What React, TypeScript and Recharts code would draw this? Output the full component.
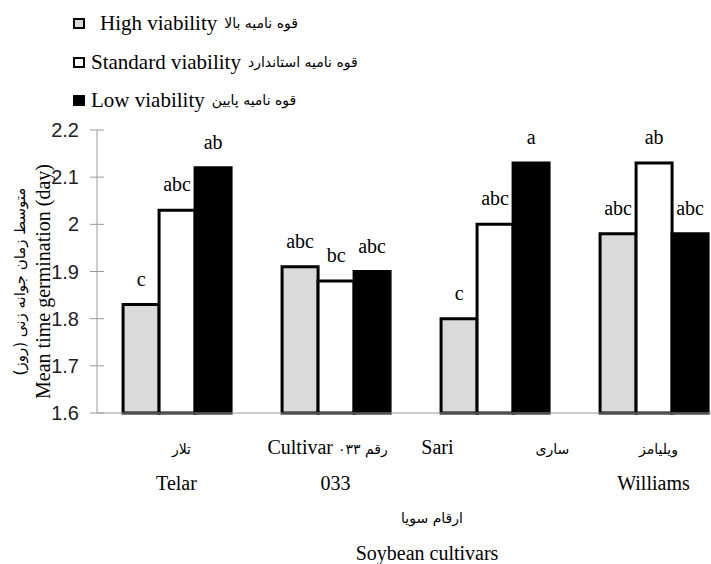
import React from 'react';
import { BarChart, Bar, XAxis, YAxis, Legend, LabelList, Label } from 'recharts';

const categories = ['Telar', 'Cultivar 033', 'Sari', 'Williams'];
const highViability = [1.83, 1.91, 1.8, 1.98];
const standardViability = [2.03, 1.88, 2.0, 2.13];
const lowViability = [2.12, 1.9, 2.13, 1.98];
const highLetters = ['c', 'abc', 'c', 'abc'];
const standardLetters = ['abc', 'bc', 'abc', 'ab'];
const lowLetters = ['ab', 'abc', 'a', 'abc'];

const yTicks = [1.6, 1.7, 1.8, 1.9, 2, 2.1, 2.2];
const yTickLabels = ['1.6', '1.7', '1.8', '1.9', '2', '2.1', '2.2'];
const edgeTicks = [0, 1, 2, 3, 4];

const seriesEn = ['High viability', 'Standard viability', 'Low viability'];
const seriesFa = ['قوه نامیه بالا', 'قوه نامیه استاندارد', 'قوه نامیه پایین'];
const seriesFill = ['#dadada', '#ffffff', '#000000'];

const catRow1En = ['', 'Cultivar', 'Sari', ''];
const catRow1Fa = ['تلار', 'رقم ۰۳۳', 'ساری', 'ویلیامز'];
const catRow2 = ['Telar', '033', '', 'Williams'];

const xTitleFa = 'ارقام سویا';
const xTitleEn = 'Soybean cultivars';
const yTitleEn = 'Mean time germination (day)';
const yTitleFa = 'متوسط زمان جوانه زنی (روز)';

const data = categories.map((name, i) => ({
  name,
  high: highViability[i],
  standard: standardViability[i],
  low: lowViability[i],
  hl: highLetters[i],
  sl: standardLetters[i],
  ll: lowLetters[i],
}));

const SERIF = "'Liberation Serif', Tinos, 'Times New Roman', Times, 'DejaVu Serif', serif";
const SANS = "'Liberation Sans', Arial, sans-serif";
const FA = "'DejaVu Sans', sans-serif";
const AXIS = '#9a9a9a';
const Y_TICK_SIZE = 8;
const Y_TICK_MARGIN = 10;

const YTick = (props: any) => {
  const { x, y, payload } = props;
  const axisX = x + Y_TICK_SIZE + Y_TICK_MARGIN;
  const idx = yTicks.indexOf(payload.value);
  return (
    <g>
      <line x1={axisX - 7} x2={axisX + 7} y1={y} y2={y} stroke={AXIS} strokeWidth={1} />
      <text x={x} y={y} dy={7} textAnchor="end" style={{ fontFamily: SANS }} fontSize={20} fill="#222">
        {idx >= 0 ? yTickLabels[idx] : payload.value}
      </text>
    </g>
  );
};

const CategoryTick = (props: any) => {
  const { x, y, index } = props;
  const en = catRow1En[index];
  const fa = catRow1Fa[index];
  const r2 = catRow2[index];
  const row1 = y + 41;
  const row2 = y + 77;
  const half = index === 2 ? 41 : 2.5;
  return (
    <g>
      {en && fa ? (
        <>
          <text x={x - half} y={row1} textAnchor="end" style={{ fontFamily: SERIF }} fontSize={20} fill="#000">{en}</text>
          <text x={x + half} y={row1} textAnchor="start" style={{ fontFamily: FA }} fontSize={14} fill="#000">{fa}</text>
        </>
      ) : (
        <text x={x + 5} y={row1} textAnchor="middle" style={{ fontFamily: FA }} fontSize={14} fill="#000">{fa || en}</text>
      )}
      {r2 ? (
        <text x={x} y={row2} textAnchor="middle" style={{ fontFamily: SERIF }} fontSize={20} fill="#000">{r2}</text>
      ) : null}
    </g>
  );
};

const XTitle = (props: any) => {
  const vb = props.viewBox || {};
  return (
    <g>
      <text x={vb.x + 335} y={vb.y + 110} textAnchor="middle" style={{ fontFamily: FA }} fontSize={14} fill="#000">{xTitleFa}</text>
      <text x={vb.x + 330} y={vb.y + 147} textAnchor="middle" style={{ fontFamily: SERIF }} fontSize={20} fill="#000">{xTitleEn}</text>
    </g>
  );
};

const YTitle = (props: any) => {
  const vb = props.viewBox || {};
  const cy = vb.y + vb.height / 2 + 10;
  const ex = vb.x + 43;
  const fx = vb.x + 20;
  return (
    <g>
      <text x={fx} y={cy} transform={`rotate(-90 ${fx} ${cy})`} textAnchor="middle" dominantBaseline="central" style={{ fontFamily: FA }} fontSize={15} fill="#000">{yTitleFa}</text>
      <text x={ex} y={cy} transform={`rotate(-90 ${ex} ${cy})`} textAnchor="middle" dominantBaseline="central" style={{ fontFamily: SERIF }} fontSize={20} fill="#000">{yTitleEn}</text>
    </g>
  );
};

const rowTops = [11, 50, 88];

const renderLegend = () => (
  <div style={{ position: 'relative', width: 420, height: 115 }}>
    {seriesEn.map((n, i) => (
      <div
        key={n}
        style={{
          position: 'absolute',
          left: 73,
          top: rowTops[i],
          height: 24,
          display: 'flex',
          alignItems: 'center',
          whiteSpace: 'nowrap',
        }}
      >
        <span
          style={{
            display: 'inline-block',
            width: 12,
            height: 11,
            border: '2.5px solid #000',
            background: seriesFill[i],
            boxSizing: 'border-box',
          }}
        />
        <span style={{ marginLeft: i === 0 ? 15 : 6, fontFamily: SERIF, fontSize: 21, color: '#000' }}>{n}</span>
        <span style={{ marginLeft: 7, fontFamily: FA, fontSize: 14, color: '#000' }}>{seriesFa[i]}</span>
      </div>
    ))}
  </div>
);

const labelStyle = { fontFamily: SERIF, fontSize: 20 };

export default function App() {
  return (
    <div style={{ position: 'absolute', left: 0, top: 0, width: 711, height: 564, overflow: 'hidden', background: '#fff' }}>
      <BarChart
        width={740}
        height={564}
        data={data}
        margin={{ top: 130, right: 7, bottom: 11, left: 0 }}
        barGap={0}
        barCategoryGap="16.4%"
      >
        <XAxis
          xAxisId="edge"
          type="number"
          domain={[0, 4]}
          ticks={edgeTicks}
          tick={false}
          axisLine={false}
          tickLine={{ stroke: AXIS }}
          tickSize={8}
          height={0}
        />
        <XAxis
          xAxisId="cat"
          dataKey="name"
          interval={0}
          tickLine={false}
          axisLine={{ stroke: AXIS }}
          tickSize={0}
          tickMargin={0}
          tick={<CategoryTick />}
          height={140}
        >
          <Label content={<XTitle />} />
        </XAxis>
        <YAxis
          domain={[1.6, 2.2]}
          ticks={yTicks}
          width={97}
          tickSize={Y_TICK_SIZE}
          tickMargin={Y_TICK_MARGIN}
          tickLine={false}
          axisLine={{ stroke: AXIS }}
          tick={<YTick />}
          interval={0}
        >
          <Label content={<YTitle />} />
        </YAxis>
        <Legend layout="vertical" align="center" verticalAlign="middle" wrapperStyle={{ top: 0, left: 0, width: 420, height: 115 }} content={renderLegend} />
        <Bar xAxisId="cat" dataKey="high" name={seriesEn[0]} fill={seriesFill[0]} stroke="#000" strokeWidth={3} isAnimationActive={false}>
          <LabelList dataKey="hl" position="top" offset={19} style={labelStyle} fill="#000" />
        </Bar>
        <Bar xAxisId="cat" dataKey="standard" name={seriesEn[1]} fill={seriesFill[1]} stroke="#000" strokeWidth={3} isAnimationActive={false}>
          <LabelList dataKey="sl" position="top" offset={19} style={labelStyle} fill="#000" />
        </Bar>
        <Bar xAxisId="cat" dataKey="low" name={seriesEn[2]} fill={seriesFill[2]} stroke="#000" strokeWidth={3} isAnimationActive={false}>
          <LabelList dataKey="ll" position="top" offset={19} style={labelStyle} fill="#000" />
        </Bar>
      </BarChart>
    </div>
  );
}
